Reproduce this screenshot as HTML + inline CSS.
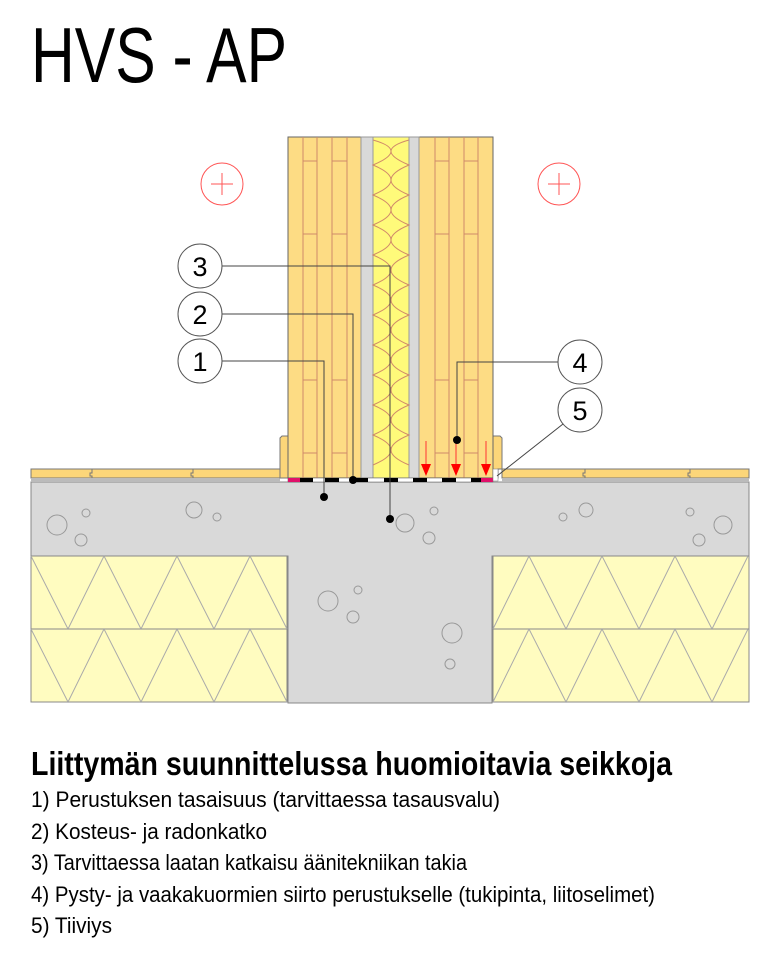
<!DOCTYPE html>
<html><head><meta charset="utf-8"><style>
html,body{margin:0;padding:0;background:#fff;}
svg{display:block;}
text{font-family:"Liberation Sans",sans-serif;}
</style></head><body>
<svg width="768" height="960" viewBox="0 0 768 960" xmlns="http://www.w3.org/2000/svg">
<text x="31" y="82" font-size="78" textLength="256" lengthAdjust="spacingAndGlyphs">HVS - AP</text>

<path d="M31 482 H749 V556 H492 V703 H288 V556 H31 Z" fill="#d9d9d9" stroke="#888" stroke-width="1"/>
<g fill="#fffcc0" stroke="#888" stroke-width="1">
<rect x="31" y="556" width="256" height="73"/><rect x="31" y="629" width="256" height="73"/>
<rect x="493" y="556" width="256" height="73"/><rect x="493" y="629" width="256" height="73"/>
</g>
<g fill="none" stroke="#aaa" stroke-width="1">
<polyline points="31,556 68,629 104,556 141,629 177,556 214,629 250,556 287,629"/>
<polyline points="31,629 68,702 104,629 141,702 177,629 214,702 250,629 287,702"/>
<polyline points="493,629 529,556 566,629 602,556 639,629 675,556 712,629 748,556"/>
<polyline points="493,702 529,629 566,702 602,629 639,702 675,629 712,702 748,629"/>
</g>
<g fill="none" stroke="#999" stroke-width="1">
<circle cx="57" cy="525" r="10"/><circle cx="86" cy="513" r="4"/><circle cx="81" cy="540" r="6"/>
<circle cx="194" cy="510" r="8"/><circle cx="217" cy="517" r="4"/>
<circle cx="405" cy="523" r="9"/><circle cx="434" cy="511" r="4"/><circle cx="429" cy="538" r="6"/>
<circle cx="328" cy="601" r="10"/><circle cx="358" cy="590" r="4"/><circle cx="353" cy="617" r="6"/>
<circle cx="452" cy="633" r="10"/><circle cx="450" cy="664" r="5"/>
<circle cx="563" cy="517" r="4"/><circle cx="586" cy="510" r="7"/>
<circle cx="690" cy="512" r="4"/><circle cx="723" cy="525" r="9"/><circle cx="699" cy="540" r="6"/>
</g>
<g fill="#fcd679" stroke="#777" stroke-width="1">
<rect x="31" y="469" width="249" height="9"/>
<rect x="502" y="469" width="247" height="9"/>
</g>
<rect x="31" y="478" width="249" height="4" fill="#bbb"/>
<rect x="502" y="478" width="247" height="4" fill="#bbb"/>
<g stroke="#777" stroke-width="1" fill="none">
<path d="M92 469 V473 H90 V476 H92 V478"/><path d="M193 469 V473 H191 V476 H193 V478"/>
<path d="M585 469 V473 H583 V476 H585 V478"/><path d="M690 469 V473 H688 V476 H690 V478"/>
</g>
<path d="M280 478 V438 L282 436 H288 V478 Z" fill="#fcd679" stroke="#777"/>
<path d="M493 478 V436 H500 L502 438 V469 H498 V478 Z" fill="#fcd679" stroke="#777"/>
<rect x="288" y="137" width="73" height="341" fill="#fddc84" stroke="#666"/>
<rect x="419" y="137" width="74" height="341" fill="#fddc84" stroke="#666"/>
<rect x="361" y="137" width="12" height="341" fill="#d9d9d9" stroke="#999"/>
<rect x="409" y="137" width="10" height="341" fill="#d9d9d9" stroke="#999"/>
<rect x="373" y="137" width="36" height="341" fill="#fffa7a" stroke="#999"/>
<g stroke="#d08a6a" stroke-width="1" fill="none">
<path d="M373 140 Q409 150 373 165 Q409 180 373 195 Q409 210 373 225 Q409 240 373 255 Q409 270 373 285 Q409 300 373 315 Q409 330 373 345 Q409 360 373 375 Q409 390 373 405 Q409 420 373 435 Q409 450 373 465"/>
<path d="M409 140 Q373 150 409 165 Q373 180 409 195 Q373 210 409 225 Q373 240 409 255 Q373 270 409 285 Q373 300 409 315 Q373 330 409 345 Q373 360 409 375 Q373 390 409 405 Q373 420 409 435 Q373 450 409 465"/>
<path d="M303 137V478M317 137V478M332 137V478M347 137V478M435 137V478M449 137V478M464 137V478M478 137V478"/>
<path d="M303 161H317M332 161H347M303 234H317M332 234H347M303 380H317M332 380H347M303 453H317M332 453H347"/>
<path d="M435 161H449M464 161H478M435 234H449M464 234H478M435 380H449M464 380H478M435 453H449M464 453H478"/>
</g>
<rect x="288" y="478" width="205" height="4" fill="#fff" stroke="#555" stroke-width="0.5"/>
<g fill="#000">
<rect x="300" y="478" width="13" height="4"/><rect x="325" y="478" width="14" height="4"/><rect x="355" y="478" width="13" height="4"/>
<rect x="384" y="478" width="14" height="4"/><rect x="413" y="478" width="14" height="4"/><rect x="442" y="478" width="14" height="4"/><rect x="471" y="478" width="10" height="4"/>
</g>
<rect x="288" y="478" width="12" height="4" fill="#e0106a"/>
<rect x="481" y="478" width="12" height="4" fill="#e0106a"/>
<rect x="493" y="469" width="5" height="12" fill="#fff" stroke="#777" stroke-width="0.5"/>
<g stroke="#f33" fill="#f00">
<line x1="426" y1="441" x2="426" y2="466"/><path d="M421 464 H431 L426 476 Z" stroke="none"/>
<line x1="456" y1="441" x2="456" y2="466"/><path d="M451 464 H461 L456 476 Z" stroke="none"/>
<line x1="486" y1="441" x2="486" y2="466"/><path d="M481 464 H491 L486 476 Z" stroke="none"/>
</g>
<g stroke="#f55" fill="none" stroke-width="1">
<circle cx="222" cy="184" r="21"/><path d="M211 184H233M222 173V195"/>
<circle cx="559" cy="184" r="21"/><path d="M548 184H570M559 173V195"/>
</g>
<g stroke="#444" stroke-width="1" fill="none">
<path d="M222 266 H390 V519"/>
<path d="M222 314 H353 V480"/>
<path d="M222 361 H324 V497"/>
<path d="M558 362 H457 V440"/>
<path d="M563 424 L497 476"/>
</g>
<g fill="#000">
<circle cx="390" cy="519" r="4"/><circle cx="353" cy="480" r="4"/><circle cx="324" cy="497" r="4"/><circle cx="457" cy="440" r="4"/>
</g>
<g fill="#fff" stroke="#555" stroke-width="1">
<circle cx="200" cy="266" r="22"/><circle cx="200" cy="314" r="22"/><circle cx="200" cy="361" r="22"/>
<circle cx="580" cy="362" r="22"/><circle cx="580" cy="410" r="22"/>
</g>
<g font-size="27" text-anchor="middle">
<text x="200" y="276">3</text><text x="200" y="324">2</text><text x="200" y="371">1</text>
<text x="580" y="372">4</text><text x="580" y="420">5</text>
</g>
<text x="31" y="775" font-size="33" font-weight="bold" textLength="641" lengthAdjust="spacingAndGlyphs">Liittymän suunnittelussa huomioitavia seikkoja</text>
<g font-size="22">
<text x="31" y="807" textLength="469" lengthAdjust="spacingAndGlyphs">1) Perustuksen tasaisuus (tarvittaessa tasausvalu)</text>
<text x="31" y="839" textLength="236" lengthAdjust="spacingAndGlyphs">2) Kosteus- ja radonkatko</text>
<text x="31" y="870" textLength="436" lengthAdjust="spacingAndGlyphs">3) Tarvittaessa laatan katkaisu äänitekniikan takia</text>
<text x="31" y="902" textLength="624" lengthAdjust="spacingAndGlyphs">4) Pysty- ja vaakakuormien siirto perustukselle (tukipinta, liitoselimet)</text>
<text x="31" y="933" textLength="81" lengthAdjust="spacingAndGlyphs">5) Tiiviys</text>
</g>
</svg>
</body></html>
